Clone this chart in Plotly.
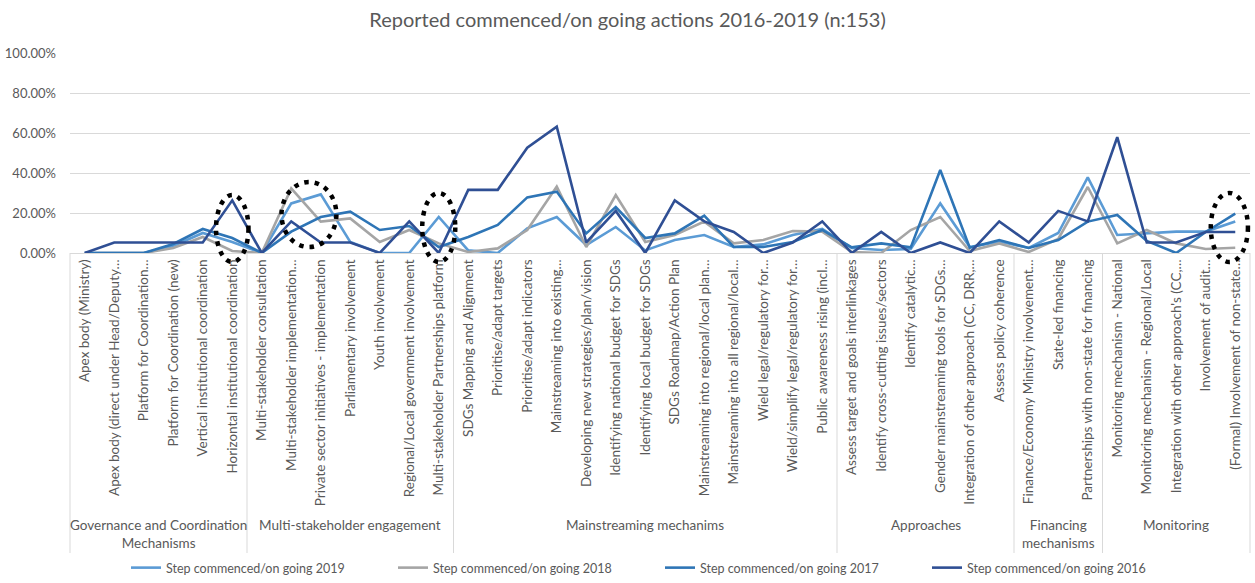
import plotly.graph_objects as go

title_text = "Reported commenced/on going actions 2016-2019 (n:153)"

categories = [
    "Apex body (Ministry)",
    "Apex body (direct under Head/Deputy…",
    "Platform for Coordination…",
    "Platform for Coordination (new)",
    "Vertical institutional coordination",
    "Horizontal institutional coordination",
    "Multi-stakeholder consultation",
    "Multi-stakeholder implementation…",
    "Private sector initiatives - implementation",
    "Parliamentary involvement",
    "Youth involvement",
    "Regional/Local government involvement",
    "Multi-stakeholder Partnerships platform",
    "SDGs Mapping and Alignment",
    "Prioritise/adapt targets",
    "Prioritise/adapt indicators",
    "Mainstreaming into existing…",
    "Developing new strategies/plan/vision",
    "Identifying national budget for SDGs",
    "Identifying local budget for SDGs",
    "SDGs Roadmap/Action Plan",
    "Mainstreaming into regional/local plan…",
    "Mainstreaming into all regional/local…",
    "Wield legal/regulatory for…",
    "Wield/simplify legal/regulatory for…",
    "Public awareness rising (incl…",
    "Assess target and goals interlinkages",
    "Identify cross-cutting issues/sectors",
    "Identify catalytic…",
    "Gender mainstreaming tools for SDGs…",
    "Integration of other approach (CC, DRR,…",
    "Assess policy coherence",
    "Finance/Economy Ministry involvement…",
    "State-led financing",
    "Partnerships with non-state for financing",
    "Monitoring mechanism - National",
    "Monitoring mechanism - Regional/Local",
    "Integration with other approach's (CC,…",
    "Involvement of audit…",
    "(Formal) Involvement of non-state…",
]

group_names = [
    "Governance and Coordination<br>Mechanisms",
    "Multi-stakeholder engagement",
    "Mainstreaming mechanims",
    "Approaches",
    "Financing<br>mechanisms",
    "Monitoring",
]
group_sizes = [6, 7, 13, 6, 3, 5]

series_names = [
    "Step commenced/on going 2019",
    "Step commenced/on going 2018",
    "Step commenced/on going 2017",
    "Step commenced/on going 2016",
]

v2019 = [0, 0, 0, 3.5, 10, 5.5, 0, 24.8, 29.3, 5.5, 0, 0, 18, 1.3, 0, 12.3, 18, 4, 13, 1.3,
         6.5, 9, 3, 4.3, 9, 12, 2.5, 1.5, 2, 24.8, 3, 5.7, 2.5, 10, 37.8, 9, 9.8, 10.7, 10.7, 15.7]
v2018 = [0, 0, 0, 2.5, 8, 1, 0, 32.3, 15.7, 17.3, 5.5, 11.5, 4.8, 0.5, 2.3, 11.5, 33.2, 3, 29, 5.5,
         9, 15.7, 4.8, 6.5, 11, 10.7, 0.5, 0, 11.5, 18, 1, 4.8, 0.5, 7, 33, 4.8, 11.5, 4.8, 2, 2.6]
v2017 = [0, 0, 0, 4.5, 12, 7.5, 0, 10.7, 18, 20.7, 11.5, 13.5, 3, 8, 14, 27.8, 30.7, 9.8, 23, 7.5,
         9.8, 18.7, 3, 3, 5.5, 11.5, 2.8, 4.8, 2.8, 41.5, 2.6, 6.5, 2.5, 6.5, 15.7, 19, 6, 0, 10.5, 19.7]
v2016 = [0, 5.26, 5.26, 5.26, 5.26, 26.32, 0, 15.79, 5.26, 5.26, 0, 15.79, 0, 31.58, 31.58, 52.63, 63.16, 5.26, 21.05, 0,
         26.32, 15.79, 10.53, 0, 5.26, 15.79, 0, 10.53, 0, 5.26, 0, 15.79, 5.26, 21.05, 15.79, 57.89, 5.26, 5.26, 10.53, 10.53]

series_values = [v2019, v2018, v2017, v2016]
series_colors = ["#5B9BD5", "#A5A5A5", "#2E75B6", "#2F4F94"]

# highlighted items (category index centre, half-width in categories, y range)
highlights = [
    (5.0, 0.55, -0.045, 0.29),
    (7.6, 0.93, 0.03, 0.355),
    (12.0, 0.56, -0.045, 0.30),
    (38.8, 0.63, -0.045, 0.30),
]

FONT = "Lato"
GRAY = "#595959"
LINE = "#D9D9D9"
N = len(categories)


def xp(i):
    # category index -> paper x (axis range is [-0.5, N-0.5])
    return (i + 0.5) / N


fig = go.Figure()
for name, vals, col in zip(series_names, series_values, series_colors):
    fig.add_trace(go.Scatter(
        x=categories, y=[v / 100 for v in vals], name=name, mode="lines",
        line=dict(color=col, width=2.6),
    ))

shapes = []
b = -0.5
bounds = [b]
for s in group_sizes:
    b += s
    bounds.append(b)
for bx in bounds:
    shapes.append(dict(type="line", xref="paper", yref="paper",
                       x0=xp(bx), x1=xp(bx), y0=0, y1=-1.5,
                       line=dict(color=LINE, width=1)))

for cx, hw, y0, y1 in highlights:
    shapes.append(dict(type="circle", xref="paper", yref="paper",
                       x0=xp(cx - hw), x1=xp(cx + hw), y0=y0, y1=y1,
                       line=dict(color="black", width=4.5, dash="4.5px,6px"),
                       layer="above"))

annotations = []
start = -0.5
for gname, gs in zip(group_names, group_sizes):
    center = start + gs / 2
    annotations.append(dict(text=gname, xref="paper", yref="paper",
                            x=xp(center), y=-1.31, xanchor="center", yanchor="top",
                            showarrow=False, font=dict(family=FONT, size=13.5, color=GRAY)))
    start += gs

fig.update_layout(
    width=1255, height=583,
    margin=dict(l=70, r=5, t=53, b=330),
    paper_bgcolor="white", plot_bgcolor="white",
    title=dict(text=title_text, x=0.5, xanchor="center", y=0.965, yanchor="middle",
               font=dict(family=FONT, size=20, color=GRAY)),
    font=dict(family=FONT, color=GRAY),
    xaxis=dict(type="category", range=[-0.5, N - 0.5], tickangle=-90,
               tickfont=dict(family=FONT, size=13.5, color=GRAY),
               showgrid=False, showline=True, linecolor=LINE, linewidth=1,
               ticks="", fixedrange=True, automargin=False),
    yaxis=dict(range=[0, 1], dtick=0.2, tickformat=".2%",
               tickfont=dict(family=FONT, size=13, color=GRAY),
               ticklabelstandoff=13,
               showgrid=True, gridcolor=LINE, gridwidth=1,
               zeroline=False, showline=False, ticks="", fixedrange=True, automargin=False),
    legend=dict(orientation="h", x=0.5, xanchor="center",
                yref="container", y=-0.026, yanchor="bottom",
                font=dict(family=FONT, size=12.5, color=GRAY),
                entrywidth=222, entrywidthmode="pixels"),
    shapes=shapes,
    annotations=annotations,
)

fig.write_html("out.html")
